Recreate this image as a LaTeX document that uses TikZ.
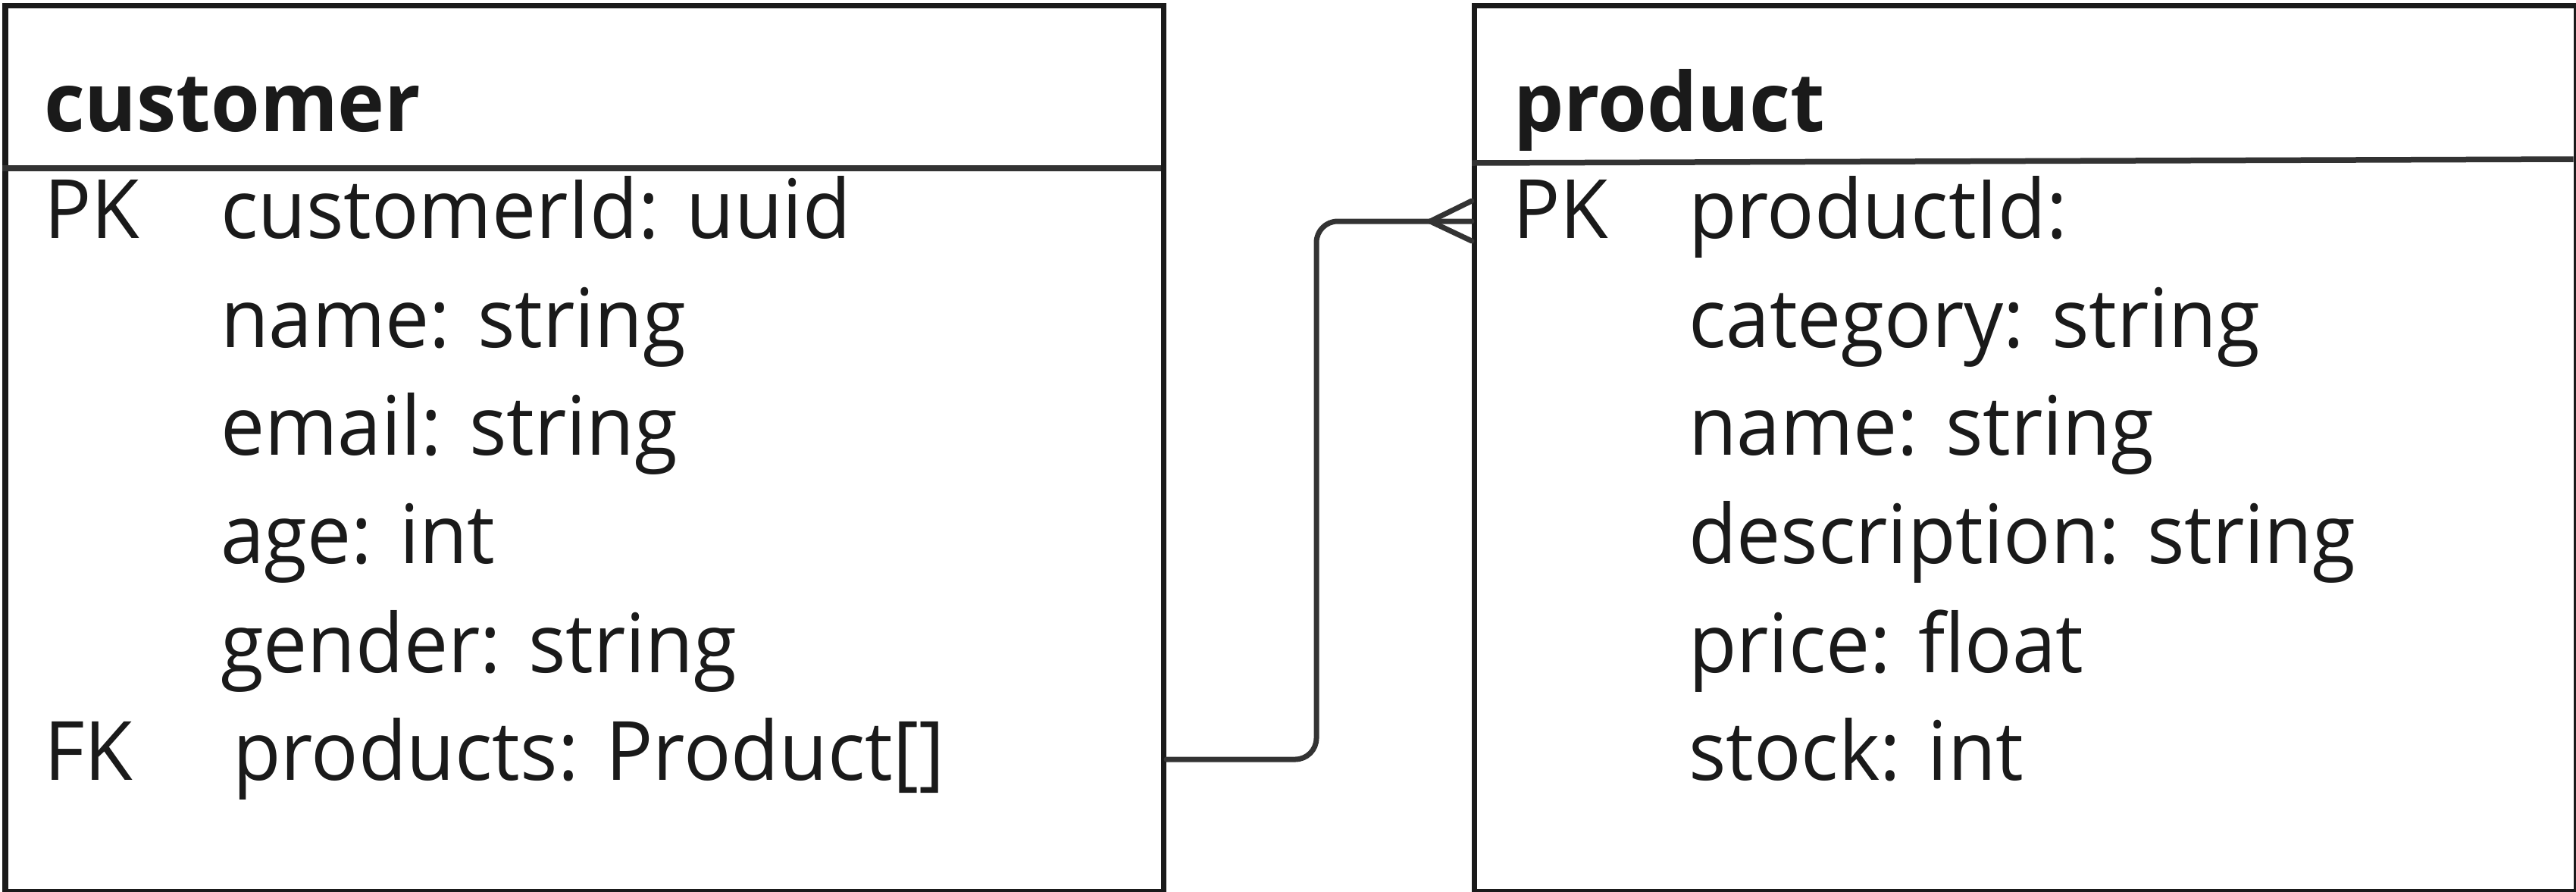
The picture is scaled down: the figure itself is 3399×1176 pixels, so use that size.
\documentclass[tikz,border=0pt]{standalone}
\usepackage{fontspec}
\setmainfont{Open Sans}
\newfontfamily\rowfont{Open Sans}[FakeStretch=0.96]
\newfontfamily\titlefont{Open Sans}[FakeStretch=0.97]
\definecolor{ink}{HTML}{1A1A1A}
\definecolor{lineg}{HTML}{333333}
\tikzset{
  entity/.style={draw=ink, line width=1.4pt, anchor=north west, inner sep=0pt},
  divider/.style={draw=lineg, line width=1.5pt},
  conn/.style={draw=lineg, line width=1.4pt, line cap=round, line join=round},
  txt/.style={anchor=base west, inner sep=0pt, text=ink, font=\rowfont\fontsize{21.6}{26}\selectfont},
  ttl/.style={anchor=base west, inner sep=0pt, text=ink, font=\titlefont\fontsize{21.6}{26}\selectfont\bfseries},
}
\begin{document}
\begin{tikzpicture}[x=0.2pt, y=-0.2pt]
\useasboundingbox (0,0) rectangle (3399,1176);
% entity boxes
\node[entity, minimum width=305.7pt, minimum height=233.8pt] (customer) at (3.5,3.5) {};
\node[entity, minimum width=290.7pt, minimum height=233.8pt] (product) at (1942,3.5) {};
\draw[divider] (3.5,222) -- (1532,222);
\draw[divider] (1942,215) -- (3395.5,210);
% customer text
\node[ttl] (ctitle) at (57,173) {customer};
\node[txt] (cpk) at (57,314) {PK};
\node[txt] (c1) at (290,314) {customerId: uuid};
\node[txt] (c2) at (290,458) {name: string};
\node[txt] (c3) at (290,600) {email: string};
\node[txt] (c4) at (290,743) {age: int};
\node[txt] (c5) at (290,887) {gender: string};
\node[txt] (cfk) at (57,1029) {FK};
\node[txt] (c6) at (306,1029) {products: Product[]};
% product text
\node[ttl] (ptitle) at (1996,173) {product};
\node[txt] (ppk) at (1995,314) {PK};
\node[txt] (p1) at (2227,314) {productId:};
\node[txt] (p2) at (2227,458) {category: string};
\node[txt] (p3) at (2227,600) {name: string};
\node[txt] (p4) at (2227,743) {description: string};
\node[txt] (p5) at (2227,887) {price: float};
\node[txt] (p6) at (2227,1029) {stock: int};
% connector
\coordinate (fkrow) at (0,1002);
\coordinate (pkrow) at (0,292);
\coordinate (bend) at (1737,0);
\draw[conn, rounded corners=5.6pt] (customer.east |- fkrow) -- (bend |- fkrow) -- (bend |- pkrow) -- (product.west |- pkrow);
\coordinate (apex) at (1887,292);
\draw[conn] (product.west |- 0,265) -- (apex) -- (product.west |- 0,318);
\end{tikzpicture}
\end{document}
